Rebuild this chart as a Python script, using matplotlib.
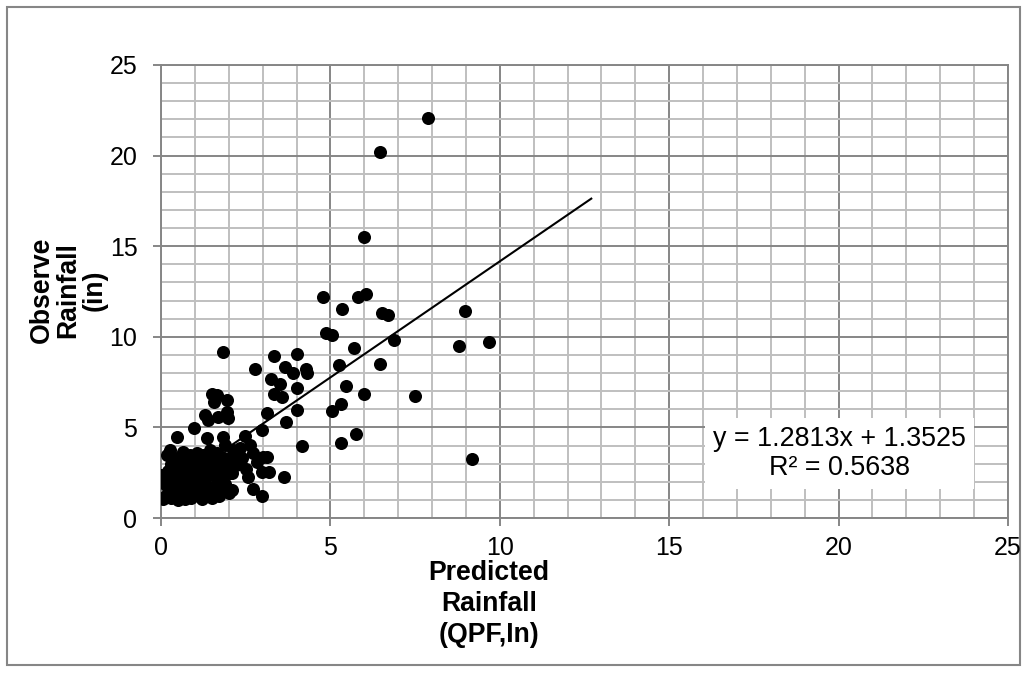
import matplotlib
matplotlib.use("Agg")
import matplotlib.pyplot as plt
from matplotlib.patches import Rectangle
import numpy as np

plt.rcParams['font.family'] = ['Liberation Sans', 'DejaVu Sans']

# Observed points (predicted x, observed y)
pred_x = [
    7.87, 6.46, 6.00, 4.77, 5.82, 6.04, 5.33, 6.51, 6.71, 8.97,
    4.87, 5.06, 6.88, 5.70, 8.80, 9.68, 1.84, 3.34, 4.00, 2.77,
    3.66, 3.90, 4.27, 4.30, 5.25, 6.46, 3.24, 3.51, 4.00, 3.34,
    3.58, 5.45, 6.00, 7.49, 1.50, 1.64, 1.57, 1.96, 1.30, 1.40,
    1.69, 1.96, 1.99, 3.12, 4.00, 5.04, 5.30, 3.69, 2.97, 0.97,
    5.77, 5.30, 4.17, 9.18, 0.46, 1.35, 1.82, 2.48, 1.89, 3.12,
    2.97, 3.20, 3.63, 2.97, 2.72, 2.10, 2.58, 2.09, 2.82, 3.02,
    2.63, 2.72, 2.13, 2.33, 0.27, 0.17, 0.66, 0.86, 1.05, 1.45,
    1.64,
    0.05, 0.30, 0.50, 0.70, 0.90, 1.20, 1.50, 1.70, 0.20, 0.40,
    0.60, 0.80, 1.00, 1.30, 1.55, 1.80, 2.00, 0.15, 0.35, 0.55,
    0.75, 0.95, 1.15, 1.40, 1.65, 1.90, 0.25, 0.45, 0.65, 0.85,
    1.05, 1.30, 1.50, 1.75, 2.05, 0.00, 0.20, 0.40, 0.60, 0.80,
    1.00, 1.20, 1.45, 1.70, 1.95, 0.30, 0.55, 0.75, 0.95, 1.15,
    1.35, 1.60, 1.85, 2.15, 0.40, 0.70, 1.25, 0.10, 0.45, 1.05,
    0.65, 1.40, 0.90, 1.60, 1.85, 2.20, 2.40, 2.50,
]
obs_y = [
    22.06, 20.18, 15.52, 12.21, 12.21, 12.36, 11.52, 11.33, 11.20, 11.42,
    10.23, 10.10, 9.84, 9.38, 9.47, 9.73, 9.15, 8.94, 9.05, 8.22,
    8.32, 8.02, 8.20, 8.02, 8.44, 8.52, 7.65, 7.40, 7.20, 6.85,
    6.70, 7.28, 6.84, 6.73, 6.86, 6.79, 6.42, 6.51, 5.68, 5.41,
    5.59, 5.87, 5.50, 5.78, 5.98, 5.90, 6.30, 5.29, 4.88, 4.95,
    4.62, 4.12, 3.96, 3.27, 4.49, 4.40, 4.49, 4.53, 4.03, 3.38,
    2.52, 2.54, 2.28, 1.23, 1.60, 1.56, 2.28, 2.47, 3.11, 3.38,
    4.03, 3.57, 3.75, 3.85, 3.75, 3.48, 3.66, 3.48, 3.57, 3.75,
    3.57,
    1.05, 1.10, 1.00, 1.05, 1.10, 1.05, 1.10, 1.20, 1.40, 1.30,
    1.50, 1.35, 1.40, 1.50, 1.35, 1.50, 1.40, 1.80, 1.70, 1.90,
    1.75, 1.90, 1.80, 1.70, 1.85, 1.90, 2.10, 2.20, 2.05, 2.30,
    2.15, 2.20, 2.35, 2.20, 2.50, 2.37, 2.60, 2.50, 2.70, 2.60,
    2.80, 2.60, 2.80, 2.70, 2.90, 3.00, 3.10, 2.95, 3.20, 3.00,
    3.20, 3.10, 3.30, 3.20, 3.30, 3.40, 3.45, 2.00, 1.55, 1.60,
    1.25, 1.25, 2.45, 2.55, 2.45, 2.90, 3.30, 2.70,
]

slope = 1.2813
intercept = 1.3525
r2 = 0.5638
trend_x = [0.0, 12.7]

x_ticks = [0, 5, 10, 15, 20, 25]
y_ticks = [0, 5, 10, 15, 20, 25]

W, H = 1027, 673
fig = plt.figure(figsize=(W / 100, H / 100), dpi=100)
ax = fig.add_axes([161 / W, 1 - 518 / H, (1008 - 161) / W, (518 - 65) / H])

ax.set_xlim(0, 25)
ax.set_ylim(0, 25)
ax.set_xticks(x_ticks)
ax.set_yticks(y_ticks)
ax.set_xticks(np.arange(0, 26, 1), minor=True)
ax.set_yticks(np.arange(0, 26, 1), minor=True)
ax.grid(which='minor', color='#bfbfbf', linewidth=1.4, zorder=0)
ax.grid(which='major', color='#868686', linewidth=1.4, zorder=0)
ax.set_axisbelow(True)
for s in ax.spines.values():
    s.set_color('#868686')
    s.set_linewidth(1.4)
ax.tick_params(which='major', direction='out', length=6, width=1.4, color='#868686',
               labelsize=18)
ax.tick_params(axis='x', which='major', pad=7)
ax.tick_params(axis='y', which='major', pad=11)
ax.tick_params(which='minor', length=0)

tx = np.array(trend_x)
ax.plot(tx, slope * tx + intercept, color='black', linewidth=1.5, zorder=3)
ax.plot(pred_x, obs_y, 'o', color='black', markersize=9.4, markeredgewidth=0, zorder=4)

ax.text(20.03, 3.55, f"y = {slope}x + {intercept}\nR² = {r2}", ha='center', va='center',
        fontsize=19.4, linespacing=1.15, zorder=5,
        bbox=dict(facecolor='white', edgecolor='none', boxstyle='square,pad=0.3'))

fig.text(489 / W, 1 - 604 / H, "Predicted\nRainfall\n(QPF,In)", ha='center', va='center',
         fontsize=19.2, fontweight='bold', linespacing=1.25)
fig.text(68 / W, 1 - 290 / H, "Observe\nRainfall\n(in)", ha='center', va='center',
         fontsize=19.2, fontweight='bold', rotation=90, linespacing=1.02)

fig.add_artist(Rectangle((7 / W, 1 - 665 / H), (1020 - 7) / W, (665 - 7) / H,
                         transform=fig.transFigure, fill=False, edgecolor='#868686',
                         linewidth=1.5, zorder=-1))

fig.savefig('out.png', dpi=100)
